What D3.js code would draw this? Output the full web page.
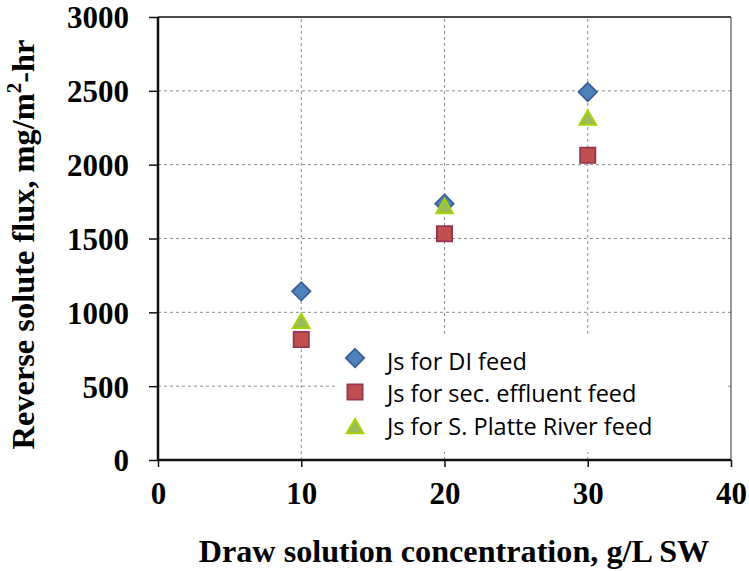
<!DOCTYPE html>
<html>
<head>
<meta charset="utf-8">
<script src="https://cdn.jsdelivr.net/npm/d3@7"></script>
<style>
  body { margin: 0; background: #fff; }
  .tick text { font-family: "Liberation Serif", "Times New Roman", serif; font-weight: bold; }
  .legend text { font-family: "Open Sans", "Carlito", sans-serif; }
</style>
</head>
<body>
<div id="chart"></div>
<script>
// data
let concentrations = [10, 20, 30];
let diFeed = [1142, 1736, 2492];
let secEffluent = [816, 1532, 2064];
let platteRiver = [944, 1720, 2320];
let seriesNames = ['Js for DI feed', 'Js for sec. effluent feed', 'Js for S. Platte River feed'];
let xTicks = [0, 10, 20, 30, 40];
let yTicks = [0, 500, 1000, 1500, 2000, 2500, 3000];

let width = 749;
let height = 571;
let margin = { top: 17, right: 18, bottom: 111, left: 158 };

let svg = d3.select('#chart')
            .append('svg')
            .attr('width', width)
            .attr('height', height);

let x = d3.scaleLinear().domain([0, 40]).range([margin.left, width - margin.right]);
let y = d3.scaleLinear().domain([0, 3000]).range([height - margin.bottom, margin.top]);

// dashed grid
svg.append('g')
   .selectAll('line')
   .data(yTicks.slice(1, -1))
   .enter().append('line')
   .attr('x1', x(0)).attr('x2', x(40))
   .attr('y1', d => y(d)).attr('y2', d => y(d))
   .attr('stroke', '#8c8c8c').attr('stroke-width', 1).attr('stroke-dasharray', '3,3');

svg.append('g')
   .selectAll('line')
   .data(xTicks.slice(1, -1))
   .enter().append('line')
   .attr('y1', y(0)).attr('y2', y(3000))
   .attr('x1', d => x(d)).attr('x2', d => x(d))
   .attr('stroke', '#8c8c8c').attr('stroke-width', 1).attr('stroke-dasharray', '3,3');

// frame top and right
svg.append('line')
   .attr('x1', x(0)).attr('x2', x(40)).attr('y1', y(3000)).attr('y2', y(3000))
   .attr('stroke', '#111').attr('stroke-width', 1.5);
svg.append('line')
   .attr('x1', x(40)).attr('x2', x(40)).attr('y1', y(3000)).attr('y2', y(0))
   .attr('stroke', '#333').attr('stroke-width', 1);

// legend box covers the grid
let legend = svg.append('g').attr('class', 'legend');
legend.append('rect')
      .attr('x', 335).attr('y', 336)
      .attr('width', 390).attr('height', 116)
      .attr('fill', '#fff');

// axes
let xAxis = svg.append('g')
               .attr('transform', `translate(0, ${y(0)})`)
               .call(d3.axisBottom(x).tickValues(xTicks).tickFormat(d3.format('d'))
                       .tickSize(7).tickPadding(15));
let yAxis = svg.append('g')
               .attr('transform', `translate(${x(0)}, 0)`)
               .call(d3.axisLeft(y).tickValues(yTicks).tickFormat(d3.format('d'))
                       .tickSize(9).tickPadding(20));

[xAxis, yAxis].forEach(ax => {
  ax.select('.domain').attr('stroke', '#111').attr('stroke-width', 2.5);
  ax.selectAll('.tick line').attr('stroke', '#111').attr('stroke-width', 1.5);
  ax.selectAll('.tick text').attr('font-size', 31).attr('fill', '#000');
});
yAxis.select('.domain').attr('d', `M0,${y(0)}V${y(3000)}`);
xAxis.select('.domain').attr('d', `M${x(0)},0H${x(40)}`);
yAxis.selectAll('.tick text').attr('dy', '0.35em');

// marker styles
let markers = [
  { type: d3.symbolDiamond2, size: 215, fill: '#4f81bd', stroke: '#3b5e96', values: diFeed },
  { type: d3.symbolSquare2, size: 295, fill: '#c0504d', stroke: '#953553', values: secEffluent },
  { type: d3.symbolTriangle2, size: 205, fill: '#9bbb59', stroke: '#a6d600', values: platteRiver }
];

markers.forEach(m => {
  svg.append('g')
     .selectAll('path')
     .data(m.values)
     .enter().append('path')
     .attr('d', d3.symbol().type(m.type).size(m.size))
     .attr('transform', (d, i) => {
       let dy = m.type === d3.symbolTriangle2 ? 2.5 : 0;
       return `translate(${x(concentrations[i])}, ${y(d) + dy})`;
     })
     .attr('fill', m.fill)
     .attr('stroke', m.stroke)
     .attr('stroke-width', 1.8);
});

// legend entries
let markerY = [358, 392, 426];
let textY = [370, 402, 435];
markers.forEach((m, i) => {
  let dy = m.type === d3.symbolTriangle2 ? 2.5 : 0;
  legend.append('path')
        .attr('d', d3.symbol().type(m.type).size(m.size))
        .attr('transform', `translate(355, ${markerY[i] + dy})`)
        .attr('fill', m.fill)
        .attr('stroke', m.stroke)
        .attr('stroke-width', 1.8);
  legend.append('text')
        .attr('x', 387)
        .attr('y', textY[i])
        .attr('font-size', 23.5)
        .attr('fill', '#000')
        .text(seriesNames[i]);
});

// axis titles
svg.append('text')
   .attr('x', 454)
   .attr('y', 562)
   .attr('text-anchor', 'middle')
   .attr('font-family', '"Liberation Serif", "Times New Roman", serif')
   .attr('font-weight', 'bold')
   .attr('font-size', 32.2)
   .text('Draw solution concentration, g/L SW');

let yTitle = svg.append('text')
   .attr('transform', 'translate(34, 244.5) rotate(-90)')
   .attr('text-anchor', 'middle')
   .attr('font-family', '"Liberation Serif", "Times New Roman", serif')
   .attr('font-weight', 'bold')
   .attr('font-size', 32.4);
yTitle.append('tspan').text('Reverse solute flux, mg/m');
yTitle.append('tspan').attr('dy', -13).attr('font-size', 21).text('2');
yTitle.append('tspan').attr('dy', 13).text('-hr');
</script>
</body>
</html>
